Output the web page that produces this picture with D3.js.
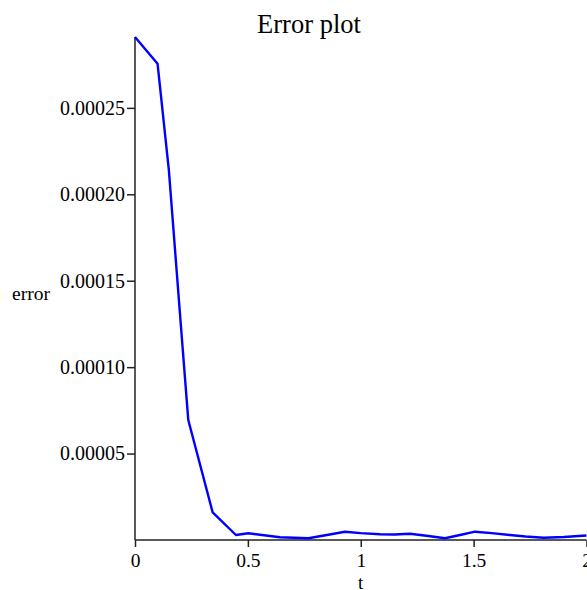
<!DOCTYPE html>
<html>
<head>
<meta charset="utf-8">
<script src="https://cdn.jsdelivr.net/npm/d3@7"></script>
<style>
  body { margin: 0; background: #fff; }
  svg text { font-family: "Liberation Serif", "Times New Roman", serif; fill: #000; }
</style>
</head>
<body>
<svg id="chart" width="587" height="590"></svg>
<script>
// data
const tValues = [0, 0.1, 0.15, 0.2, 0.236, 0.344, 0.447, 0.502, 0.642, 0.768, 0.85, 0.93,
  1.0, 1.085, 1.15, 1.218, 1.3, 1.373, 1.44, 1.506, 1.58, 1.66, 1.73, 1.81, 1.9, 2.0];
const errorValues = [0.000291, 0.0002755, 0.000214, 0.0001295, 0.0000694, 0.000016, 0.0000029,
  0.0000039, 0.0000016, 0.0000010, 0.0000029, 0.0000048, 0.0000040, 0.0000033, 0.0000032,
  0.0000036, 0.0000023, 0.0000010, 0.0000029, 0.0000048, 0.0000040, 0.0000029, 0.0000020,
  0.0000013, 0.0000017, 0.0000026];
const xTicks = [0, 0.5, 1, 1.5, 2];
const xTickLabels = ["0", "0.5", "1", "1.5", "2"];
const yTicks = [0.00005, 0.0001, 0.00015, 0.0002, 0.00025];
const yTickLabels = ["0.00005", "0.00010", "0.00015", "0.00020", "0.00025"];

const svg = d3.select("#chart");
const x = d3.scaleLinear().domain([0, 2]).range([135, 586.5]);
const y = d3.scaleLinear().domain([0, 0.000291]).range([540, 37]);

// title
svg.append("text")
  .attr("x", 309)
  .attr("y", 33)
  .attr("text-anchor", "middle")
  .style("font-size", "26.5px")
  .text("Error plot");

// x axis
const xAxis = svg.append("g").attr("transform", "translate(0,540)");
xAxis.call(d3.axisBottom(x).tickValues(d3.range(0, 2.0001, 0.1)).tickSize(3.5).tickFormat(""));
xAxis.call(d3.axisBottom(x).tickValues(xTicks).tickSize(7)
  .tickFormat((d, i) => xTickLabels[i]));
xAxis.selectAll("text").style("font-size", "19.5px").attr("y", 13).attr("dy", "0.71em");

// y axis
const yAxis = svg.append("g").attr("transform", "translate(135,0)");
yAxis.call(d3.axisLeft(y).tickValues(d3.range(0.00001, 0.000285, 0.00001)).tickSize(4.5).tickFormat(""));
yAxis.call(d3.axisLeft(y).tickValues(yTicks).tickSize(8)
  .tickFormat((d, i) => yTickLabels[i]));
yAxis.selectAll("text").style("font-size", "20px").attr("x", -10);

svg.selectAll(".domain, .tick line")
  .attr("stroke", "#222")
  .attr("stroke-width", 1.5);
svg.selectAll(".domain").attr("d", function () {
  return this.parentNode === xAxis.node()
    ? `M${x(0)},0H${x(2)}`
    : `M0,${y(0)}V${y(0.000291)}`;
});

// axis labels
svg.append("text")
  .attr("x", x(1))
  .attr("y", 589)
  .attr("text-anchor", "middle")
  .style("font-size", "19px")
  .text("t");

svg.append("text")
  .attr("x", 12)
  .attr("y", 300)
  .style("font-size", "19.5px")
  .text("error");

// error line
const line = d3.line()
  .x((d, i) => x(tValues[i]))
  .y(d => y(d));

svg.append("path")
  .datum(errorValues)
  .attr("fill", "none")
  .attr("stroke", "#0000ff")
  .attr("stroke-width", 2.4)
  .attr("stroke-linejoin", "round")
  .attr("d", line);
</script>
</body>
</html>
